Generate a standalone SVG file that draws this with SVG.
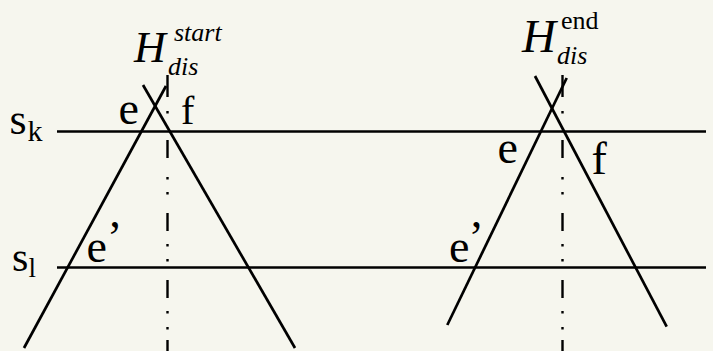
<svg xmlns="http://www.w3.org/2000/svg" width="713" height="351" viewBox="0 0 713 351">
<style>
.ln{stroke:#000;stroke-width:2.7;fill:none}
.dd{stroke:#000;stroke-width:2.4;fill:none}
text{font-family:"Liberation Serif","Times New Roman",serif;fill:#000}
.it{font-style:italic}
</style>
<rect width="713" height="351" fill="#F6F6EE"/>
<g id="connectors">
<line class="ln" x1="57" y1="131.5" x2="706" y2="131.5"/>
<line class="ln" x1="57" y1="267.5" x2="706" y2="267.5"/>
<line class="ln" x1="24" y1="348" x2="166" y2="86"/>
<line class="ln" x1="143" y1="85" x2="295" y2="348"/>
<line class="ln" x1="447.3" y1="325" x2="566.7" y2="78"/>
<line class="ln" x1="535" y1="76" x2="666.7" y2="326.7"/>
<path id="vd" class="dd" d="M167.5 75V97M167.5 111V113.5M167.5 140V158M167.5 177V179.5M167.5 192V194.5M167.5 213V231M167.5 244V246.5M167.5 259V261.5M167.5 280V298M167.5 311V313.5M167.5 327V329.5M167.5 340V351"/>
<use href="#vd" x="395"/>
</g>
<g id="label-H-start">
<text class="it" x="134" y="61.5" font-size="44">H</text>
<text class="it" x="174" y="40.5" font-size="26">start</text>
<text class="it" x="168" y="74.5" font-size="26">dis</text>
</g>
<g id="label-H-end">
<text class="it" x="522" y="51.5" font-size="47">H</text>
<text x="561" y="28.5" font-size="26">end</text>
<text class="it" x="557" y="63.5" font-size="26">dis</text>
</g>
<g id="label-sk">
<text x="9.5" y="134" font-size="44">s</text>
<text x="27.5" y="141" font-size="30">k</text>
</g>
<g id="label-sl">
<text x="12" y="270.5" font-size="42">s</text>
<text x="28.5" y="277" font-size="27">l</text>
</g>
<g id="labels-left">
<text x="118.5" y="123.5" font-size="46">e</text>
<text x="181" y="123.5" font-size="40">f</text>
<text x="86.5" y="261.5" font-size="46">e</text>
<text x="107" y="252.5" font-size="46">’</text>
</g>
<g id="labels-right">
<text x="497.5" y="163" font-size="46">e</text>
<text x="591.5" y="174" font-size="46">f</text>
<text x="449" y="261.5" font-size="46">e</text>
<text x="468.5" y="252.5" font-size="46">’</text>
</g>
</svg>
